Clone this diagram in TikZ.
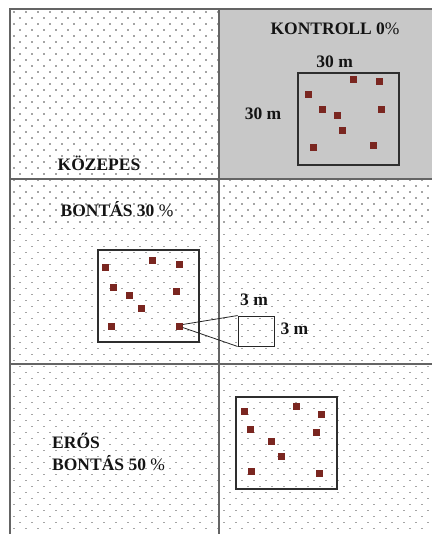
\documentclass[tikz,border=0pt]{standalone}
\usepackage{fontspec}
\setmainfont{Liberation Serif}
\usepackage{tikz}
\usetikzlibrary{positioning}

\definecolor{plantred}{RGB}{122,38,32}
\definecolor{gridgray}{RGB}{100,100,100}
\definecolor{dotgray}{RGB}{165,165,165}
\definecolor{densegray}{RGB}{200,200,200}

\tikzset{
    plant/.style={fill=plantred, minimum size=7pt, inner sep=0pt},
    plotbox/.style={draw=black!82, line width=2.3pt, minimum width=101pt, minimum height=92pt, anchor=north west, inner sep=0pt},
    zoombox/.style={draw=black!85, line width=0.9pt, minimum width=36pt, minimum height=30pt, inner sep=0pt},
    txt/.style={font=\bfseries\fontsize{17.5}{22}\selectfont, text=black!92, inner sep=1pt},
    gridline/.style={draw=gridgray, line width=1.4pt}
}

\begin{document}
\begin{tikzpicture}[x=1pt, y=-1pt]
    \useasboundingbox (0,0) rectangle (432,534);

    % background dots
    \foreach \r in {0,...,87} {
        \foreach \c in {0,...,35} {
            \fill[dotgray] ({14+12*\c+6*mod(\r,2)-0.8}, {12.3+6*\r-0.8}) rectangle ++(1.6,1.6);
        }
    }
    \fill[densegray] (219,9) rectangle (432,179);

    % field grid
    \draw[gridline] (10,534) -- (10,9) -- (432,9);
    \draw[gridline] (219,9) -- (219,534);
    \draw[gridline] (10,179) -- (432,179);
    \draw[gridline] (10,364) -- (432,364);

    \node[txt] (kontroll) at (335,29) {KONTROLL 0{\mdseries\%}};
    \node[txt] (kozepes) at (99,163) {KÖZEPES};
    \node[txt] (bontas30) at (117,209) {BONTÁS 30 {\mdseries\%}};
    \node[txt, align=left, anchor=west] (eros) at (51,452) {ERŐS\\BONTÁS 50 {\mdseries\%}};

    % control plot
    \node[plotbox] (ctrlplot) at (297,72) {};
    \node[txt] (ctrltop) at ([shift={(-14,-10)}]ctrlplot.north) {30 m};
    \node[txt] (ctrlside) at ([shift={(-34,-5)}]ctrlplot.west) {30 m};
    \foreach \px/\py [count=\i] in {56/8, 82/10, 11/23, 25/38, 40/44, 84/38, 45/59, 16/76, 76/74}
        \node[plant] (c\i) at ([shift={(\px,\py)}]ctrlplot.north west) {};

    % medium plot
    \node[plotbox] (medplot) at (97,249) {};
    \foreach \px/\py [count=\i] in {8/18, 55/11, 82/15, 16/38, 32/46, 79/42, 44/59, 14/77, 82/77}
        \node[plant] (m\i) at ([shift={(\px,\py)}]medplot.north west) {};

    \node[zoombox] (subplot) at (256,331) {};
    \node[txt] (subtop) at ([shift={(-2,-16)}]subplot.north) {3 m};
    \node[txt] (subside) at ([shift={(20,-2)}]subplot.east) {3 m};
    \draw[black!85, line width=0.8pt] ([shift={(0,-1.5)}]m9.east) -- (subplot.north west);
    \draw[black!85, line width=0.8pt] ([shift={(0,1.5)}]m9.east) -- (subplot.south west);

    % strong plot
    \node[plotbox] (strongplot) at (235,396) {};
    \foreach \px/\py [count=\i] in {9/15, 61/10, 86/18, 15/33, 81/36, 36/45, 46/60, 16/75, 84/77}
        \node[plant] (s\i) at ([shift={(\px,\py)}]strongplot.north west) {};

\end{tikzpicture}
\end{document}
